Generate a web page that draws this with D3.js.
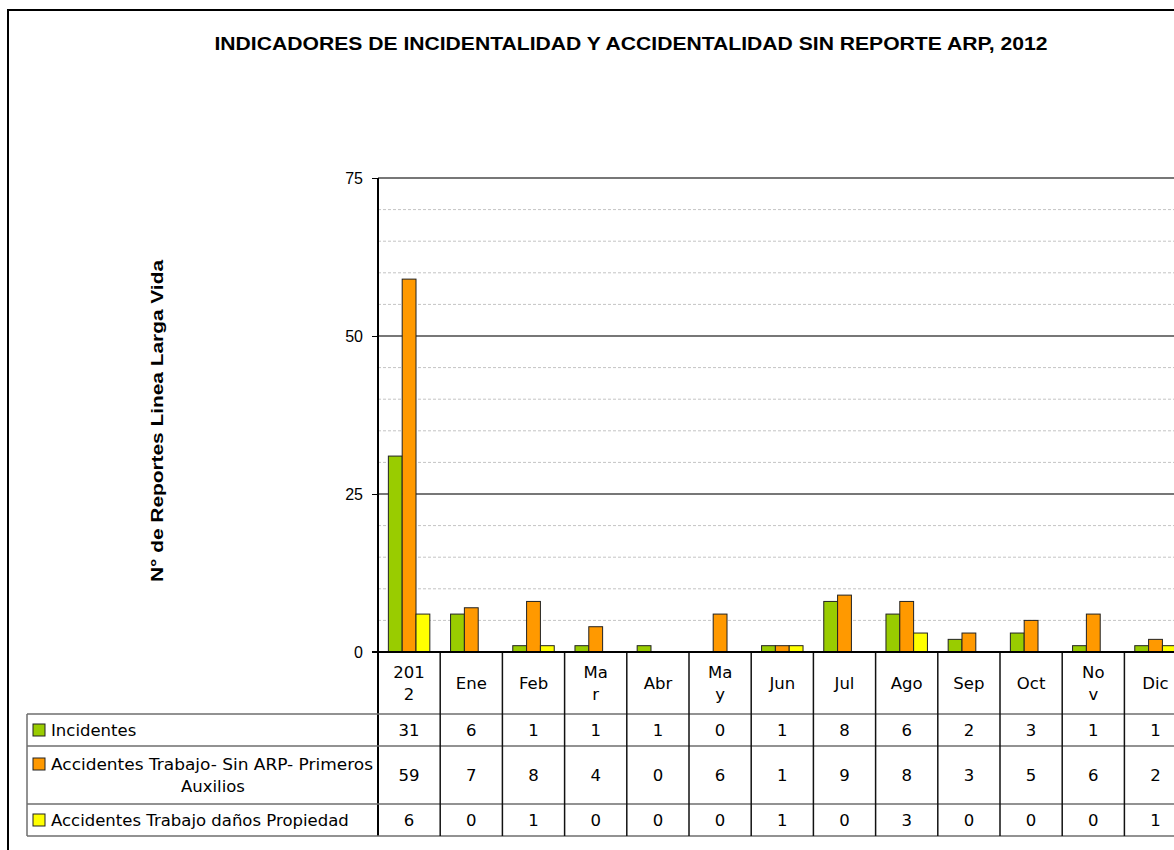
<!DOCTYPE html>
<html>
<head>
<meta charset="utf-8">
<script src="https://cdn.jsdelivr.net/npm/d3@7"></script>
<style>
    body { margin: 0; background: #fff; }
    svg { display: block; }
</style>
</head>
<body>
<div id="chart"></div>
<script>
    /****** data ******/
    var categories = ["2012", "Ene", "Feb", "Mar", "Abr", "May", "Jun", "Jul", "Ago", "Sep", "Oct", "Nov", "Dic"];
    // header labels as wrapped in the data table
    var headerLabels = ["201\n2", "Ene", "Feb", "Ma\nr", "Abr", "Ma\ny", "Jun", "Jul", "Ago", "Sep", "Oct", "No\nv", "Dic"];
    var seriesNames = ["Incidentes", "Accidentes Trabajo- Sin ARP- Primeros Auxilios", "Accidentes Trabajo daños Propiedad"];
    var incidentes = [31, 6, 1, 1, 1, 0, 1, 8, 6, 2, 3, 1, 1];
    var primerosAuxilios = [59, 7, 8, 4, 0, 6, 1, 9, 8, 3, 5, 6, 2];
    var danosPropiedad = [6, 0, 1, 0, 0, 0, 1, 0, 3, 0, 0, 0, 1];
    var seriesColors = ["#99cc00", "#ff9900", "#ffff00"];
    var yTicks = [0, 25, 50, 75];

    var seriesValues = [incidentes, primerosAuxilios, danosPropiedad];

    var W = 1174, H = 850;
    var plotLeft = 378, plotTop = 178, plotBottom = 652;
    var colW = 62.2;
    var plotRight = plotLeft + colW * categories.length;
    var tableFont = "'DejaVu Sans', Verdana, sans-serif";
    var tableSize = "16.5px";

    var svg = d3.select("#chart").append("svg")
        .attr("width", W)
        .attr("height", H);

    svg.append("rect").attr("width", W).attr("height", H).attr("fill", "#fff");
    // chart area border
    svg.append("rect")
        .attr("x", 8).attr("y", 10)
        .attr("width", 1300).attr("height", 1000)
        .attr("fill", "none")
        .attr("stroke", "#000")
        .attr("stroke-width", 2);

    var x = d3.scaleBand()
        .domain(categories)
        .range([plotLeft, plotRight]);
    var xInner = d3.scaleBand()
        .domain(d3.range(seriesValues.length))
        .range([0, x.bandwidth()])
        .paddingOuter(0.75);
    var y = d3.scaleLinear()
        .domain([0, 75])
        .range([plotBottom, plotTop]);

    /****** title ******/
    svg.append("text")
        .attr("x", 631).attr("y", 50)
        .attr("text-anchor", "middle")
        .attr("font-family", "'Liberation Sans', Arial, sans-serif")
        .attr("font-weight", "bold")
        .attr("font-size", "18px")
        .attr("textLength", 833)
        .attr("lengthAdjust", "spacingAndGlyphs")
        .text("INDICADORES DE INCIDENTALIDAD Y ACCIDENTALIDAD SIN REPORTE  ARP, 2012");

    svg.append("text")
        .attr("transform", "translate(163,421) rotate(-90)")
        .attr("text-anchor", "middle")
        .attr("font-family", "'Liberation Sans', Arial, sans-serif")
        .attr("font-weight", "bold")
        .attr("font-size", "17px")
        .attr("textLength", 322)
        .attr("lengthAdjust", "spacingAndGlyphs")
        .text("N° de Reportes Linea Larga Vida");

    /****** gridlines ******/
    var minor = d3.range(5, 75, 5).filter(function(d) { return d % 25 !== 0; });
    svg.append("g").selectAll("line")
        .data(minor)
        .enter()
        .append("line")
        .attr("x1", plotLeft).attr("x2", plotRight)
        .attr("y1", function(d) { return y(d); })
        .attr("y2", function(d) { return y(d); })
        .attr("stroke", "#c4c4c4")
        .attr("stroke-dasharray", "3,2");
    svg.append("g").selectAll("line")
        .data([25, 50, 75])
        .enter()
        .append("line")
        .attr("x1", plotLeft).attr("x2", plotRight)
        .attr("y1", function(d) { return y(d); })
        .attr("y2", function(d) { return y(d); })
        .attr("stroke", "#4a4a4a")
        .attr("stroke-width", 1.5);

    /****** bars ******/
    var groups = svg.append("g").selectAll("g")
        .data(categories)
        .enter()
        .append("g")
        .attr("transform", function(d) { return "translate(" + x(d) + ",0)"; });
    groups.selectAll("rect")
        .data(function(d, i) {
            return seriesValues.map(function(s, k) { return { k: k, v: s[i] }; });
        })
        .enter()
        .filter(function(d) { return d.v > 0; })
        .append("rect")
        .attr("x", function(d) { return xInner(d.k); })
        .attr("y", function(d) { return y(d.v); })
        .attr("width", xInner.bandwidth())
        .attr("height", function(d) { return y(0) - y(d.v); })
        .attr("fill", function(d) { return seriesColors[d.k]; })
        .attr("stroke", "#222")
        .attr("stroke-width", 1);

    /****** y axis ******/
    var yAxis = d3.axisLeft(y).tickValues(yTicks).tickSize(6).tickPadding(9);
    var ya = svg.append("g")
        .attr("transform", "translate(" + plotLeft + ",0)")
        .attr("font-size", null)
        .attr("font-family", null)
        .call(yAxis);
    ya.select(".domain").remove();
    ya.selectAll(".tick line").attr("stroke", "#000");
    ya.selectAll(".tick text")
        .attr("font-family", "'Liberation Sans Narrow', 'Liberation Sans', Arial, sans-serif")
        .attr("font-size", 16)
        .attr("fill", "#000");
    svg.append("line")
        .attr("x1", plotLeft).attr("x2", plotLeft)
        .attr("y1", plotTop).attr("y2", 836)
        .attr("stroke", "#000").attr("stroke-width", 2);

    /****** data table ******/
    var rowLines = [714, 746, 804, 836];
    var rowMid = [730, 775, 820];
    var legendLeft = 27;

    svg.append("g").selectAll("line")
        .data(rowLines)
        .enter()
        .append("line")
        .attr("x1", legendLeft)
        .attr("x2", plotRight)
        .attr("y1", function(d) { return d; })
        .attr("y2", function(d) { return d; })
        .attr("stroke", "#6e6e6e")
        .attr("stroke-width", 1.5);
    svg.append("line")
        .attr("x1", legendLeft).attr("x2", legendLeft)
        .attr("y1", 714).attr("y2", 836)
        .attr("stroke", "#6e6e6e").attr("stroke-width", 1.5);
    svg.append("g").selectAll("line")
        .data(categories.slice(1))
        .enter()
        .append("line")
        .attr("x1", function(d) { return x(d); })
        .attr("x2", function(d) { return x(d); })
        .attr("y1", plotBottom).attr("y2", 836)
        .attr("stroke", "#111")
        .attr("stroke-width", 1.5);
    // axis line (0)
    svg.append("line")
        .attr("x1", plotLeft - 6).attr("x2", plotRight)
        .attr("y1", plotBottom).attr("y2", plotBottom)
        .attr("stroke", "#000").attr("stroke-width", 2);

    // header labels
    var hdr = svg.append("g").selectAll("text")
        .data(headerLabels)
        .enter()
        .append("text")
        .attr("text-anchor", "middle")
        .attr("font-family", tableFont)
        .attr("font-size", tableSize)
        .attr("fill", "#000");
    hdr.each(function(d, i) {
        var lines = d.split("\n");
        var cx = x(categories[i]) + x.bandwidth() / 2;
        var y0 = 683 - (lines.length - 1) * 11 + 6;
        d3.select(this).selectAll("tspan")
            .data(lines)
            .enter()
            .append("tspan")
            .attr("x", cx)
            .attr("y", function(l, j) { return y0 + j * 22; })
            .text(function(l) { return l; });
    });

    // values
    seriesValues.forEach(function(s, k) {
        svg.append("g").selectAll("text")
            .data(s)
            .enter()
            .append("text")
            .attr("x", function(d, i) { return x(categories[i]) + x.bandwidth() / 2; })
            .attr("y", rowMid[k] + 6)
            .attr("text-anchor", "middle")
            .attr("font-family", tableFont)
            .attr("font-size", tableSize)
            .text(function(d) { return d; });
    });

    // legend keys + names
    var legendRows = [["Incidentes"], ["Accidentes Trabajo- Sin ARP- Primeros", "Auxilios"], ["Accidentes Trabajo daños Propiedad"]];
    legendRows.forEach(function(lines, k) {
        var yTop = lines.length > 1 ? rowMid[k] - 11 : rowMid[k];
        svg.append("rect")
            .attr("x", 33).attr("y", yTop - 6)
            .attr("width", 12).attr("height", 12)
            .attr("fill", seriesColors[k])
            .attr("stroke", "#222");
        svg.append("text")
            .attr("x", 51).attr("y", yTop + 6)
            .attr("font-family", tableFont)
            .attr("font-size", tableSize)
            .attr("textLength", lines.length > 1 ? 322 : null)
            .attr("lengthAdjust", "spacingAndGlyphs")
            .text(lines[0]);
        if (lines.length > 1) {
            svg.append("text")
                .attr("x", 213).attr("y", yTop + 28)
                .attr("text-anchor", "middle")
                .attr("font-family", tableFont)
                .attr("font-size", tableSize)
                .text(lines[1]);
        }
    });
</script>
</body>
</html>
